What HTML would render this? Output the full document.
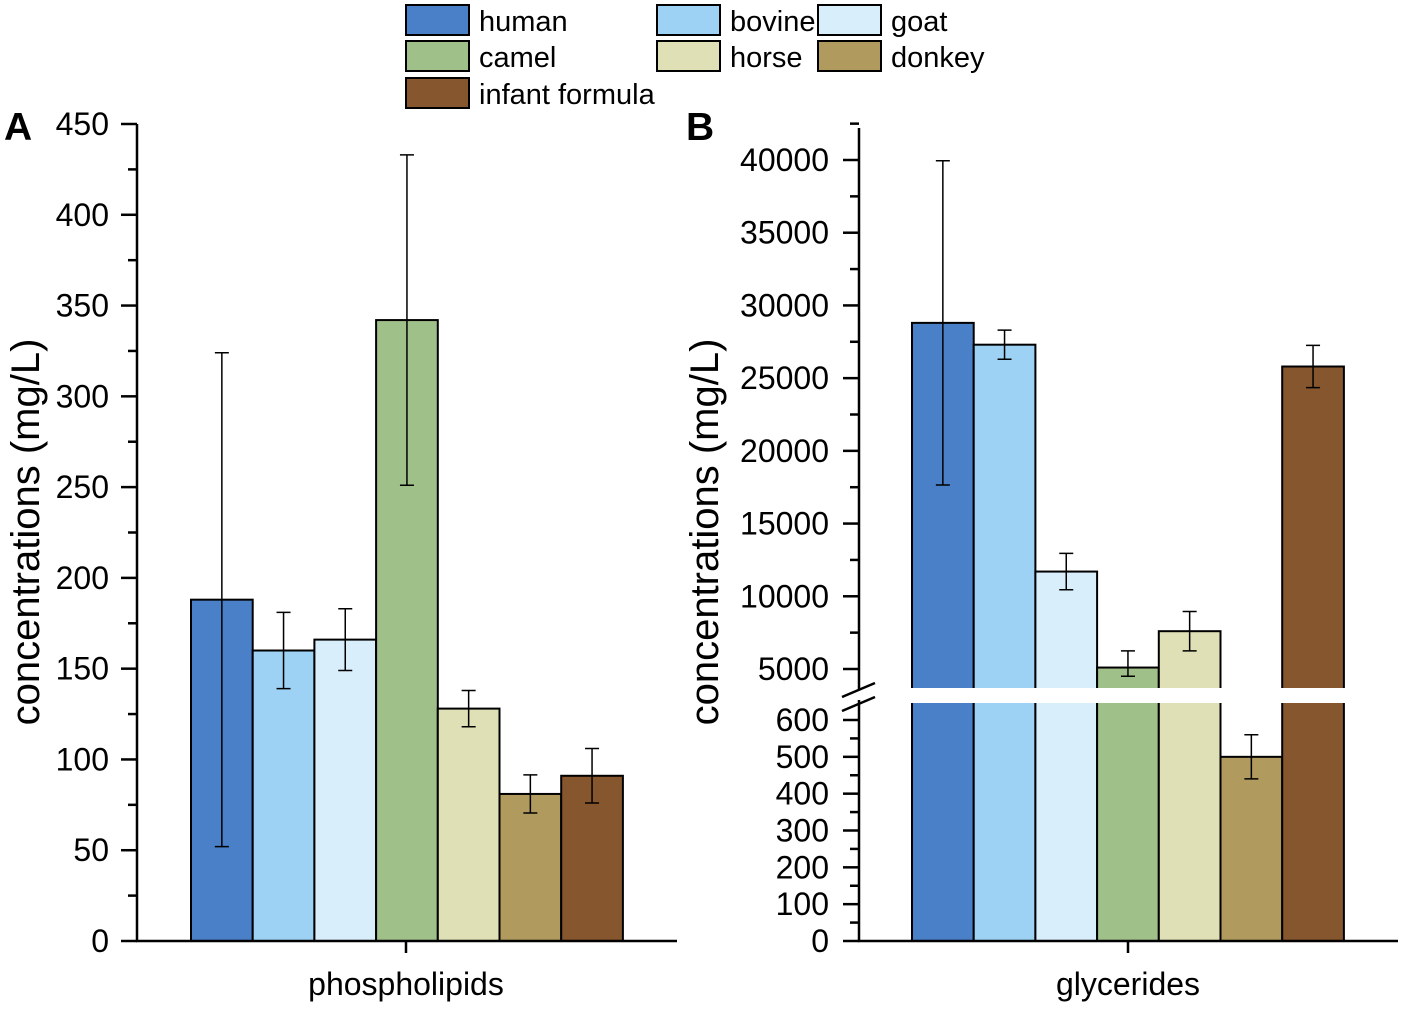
<!DOCTYPE html>
<html><head><meta charset="utf-8"><style>
html,body{margin:0;padding:0;background:#fff}
svg{display:block;font-family:"Liberation Sans",Arial,sans-serif}
</style></head><body>
<svg id="chart" width="1405" height="1009" viewBox="0 0 1405 1009"></svg>
<script>
const seriesNames=["human","bovine","goat","camel","horse","donkey","infant formula"];
const colors=["#4a80c8","#9ed2f4","#d8eefb","#a0c08a","#e0e0b6","#b09a5e","#86562e"];
const phosphoValues=[188,160,166,342,128,81,91];
const phosphoErrors=[136,21,17,91,10,10.5,15];
const glycValues=[28800,27300,11700,5100,7600,500,25800];
const glycErrors=[11150,1000,1250,1150,1350,60,1450];
const ticksA=[0,50,100,150,200,250,300,350,400,450];
const ticksBLow=[0,100,200,300,400,500,600];
const ticksBHigh=[5000,10000,15000,20000,25000,30000,35000,40000];

const svg=document.getElementById('chart');
const NS='http://www.w3.org/2000/svg';
function mk(tag,attrs,parent){const e=document.createElementNS(NS,tag);for(const k in attrs)e.setAttribute(k,attrs[k]);(parent||svg).appendChild(e);return e;}
function txt(s,attrs){const t=mk('text',attrs);t.textContent=s;return t;}

// Panel A
const yA=v=>941-v*(817/450);
const ax0=137, ax1=677, barW=61.7, barStart=191;
const gA=mk('g',{});


phosphoValues.forEach((v,i)=>{
  const x=barStart+i*barW;
  const r=mk('rect',{x:x,y:yA(v),width:barW,height:941-yA(v),fill:colors[i],stroke:'#000','stroke-width':2},gA);
  
  
  const cx=x+barW/2,e=phosphoErrors[i];
  const p=mk('path',{d:`M${cx} ${yA(v-e)}V${yA(v+e)}M${cx-7} ${yA(v-e)}h14M${cx-7} ${yA(v+e)}h14`,stroke:'#000','stroke-width':1.5,fill:'none'},gA);
  
  
});
mk('path',{d:`M${ax0} ${yA(450)}V941H${ax1}M406 941v12`,stroke:'#000','stroke-width':2.5,fill:'none'});
ticksA.forEach((t,i)=>{
  mk('line',{x1:ax0-16,x2:ax0,y1:yA(t),y2:yA(t),stroke:'#000','stroke-width':2.5});
  if(i<ticksA.length-1) mk('line',{x1:ax0-9,x2:ax0,y1:yA(t+25),y2:yA(t+25),stroke:'#000','stroke-width':2.5});
  const l=txt(String(t),{x:ax0-28,y:yA(t)+11,'text-anchor':'end','font-size':32});
  
  
});
txt('phospholipids',{x:406,y:995,'text-anchor':'middle','font-size':32,});
txt('concentrations (mg/L)',{x:0,y:0,transform:'translate(39,532) rotate(-90)','text-anchor':'middle','font-size':40,});
txt('A',{x:4,y:140,'font-size':39,'font-weight':'bold',});

// Panel B
const yLow=v=>941-v*(221/600);
const yHigh=v=>669-(v-5000)*(509/35000);
const yB=v=>v<=640?yLow(v):yHigh(Math.max(v,4500));
const bx0=859,bx1=1398,bStart=912;
glycValues.forEach((v,i)=>{
  const x=bStart+i*barW;
  const r=mk('rect',{x:x,y:yB(v),width:barW,height:941-yB(v),fill:colors[i],stroke:'#000','stroke-width':2});
  
  
  const cx=x+barW/2,e=glycErrors[i];
  const p=mk('path',{d:`M${cx} ${yB(v-e)}V${yB(v+e)}M${cx-7} ${yB(v-e)}h14M${cx-7} ${yB(v+e)}h14`,stroke:'#000','stroke-width':1.5,fill:'none'});
  
  
});
// axis break band
mk('rect',{x:845,y:688,width:560,height:15,fill:'#fff'});
mk('path',{d:`M${bx0} ${yHigh(42200)}V690M${bx0} 700V941H${bx1}M1128 941v12`,stroke:'#000','stroke-width':2.5,fill:'none'});
mk('path',{d:'M842 697L875 683M842 711L875 697',stroke:'#000','stroke-width':2.5});
ticksBLow.forEach((t,i)=>{
  mk('line',{x1:bx0-16,x2:bx0,y1:yLow(t),y2:yLow(t),stroke:'#000','stroke-width':2.5});
  if(i<ticksBLow.length-1) mk('line',{x1:bx0-9,x2:bx0,y1:yLow(t+50),y2:yLow(t+50),stroke:'#000','stroke-width':2.5});
  const l=txt(String(t),{x:bx0-30,y:yLow(t)+11,'text-anchor':'end','font-size':32});
  
  
});
ticksBHigh.forEach((t,i)=>{
  mk('line',{x1:bx0-16,x2:bx0,y1:yHigh(t),y2:yHigh(t),stroke:'#000','stroke-width':2.5});
  mk('line',{x1:bx0-9,x2:bx0,y1:yHigh(t+2500),y2:yHigh(t+2500),stroke:'#000','stroke-width':2.5});
  const l=txt(String(t),{x:bx0-30,y:yHigh(t)+11,'text-anchor':'end','font-size':32});
  
  
});
txt('glycerides',{x:1128,y:995,'text-anchor':'middle','font-size':32,});
txt('concentrations (mg/L)',{x:0,y:0,transform:'translate(718,532) rotate(-90)','text-anchor':'middle','font-size':40,});
txt('B',{x:686,y:140,'font-size':39,'font-weight':'bold',});

// Legend
const legPos=[[406,5],[657,5],[818,5],[406,41],[657,41],[818,41],[406,78]];
seriesNames.forEach((n,i)=>{
  const [x,y]=legPos[i];
  const r=mk('rect',{x:x,y:y,width:63,height:30,fill:colors[i],stroke:'#000','stroke-width':2});
  
  
  const t=txt(n,{x:x+73,y:y+26,'font-size':29});
  
  
});
</script>
</body></html>
